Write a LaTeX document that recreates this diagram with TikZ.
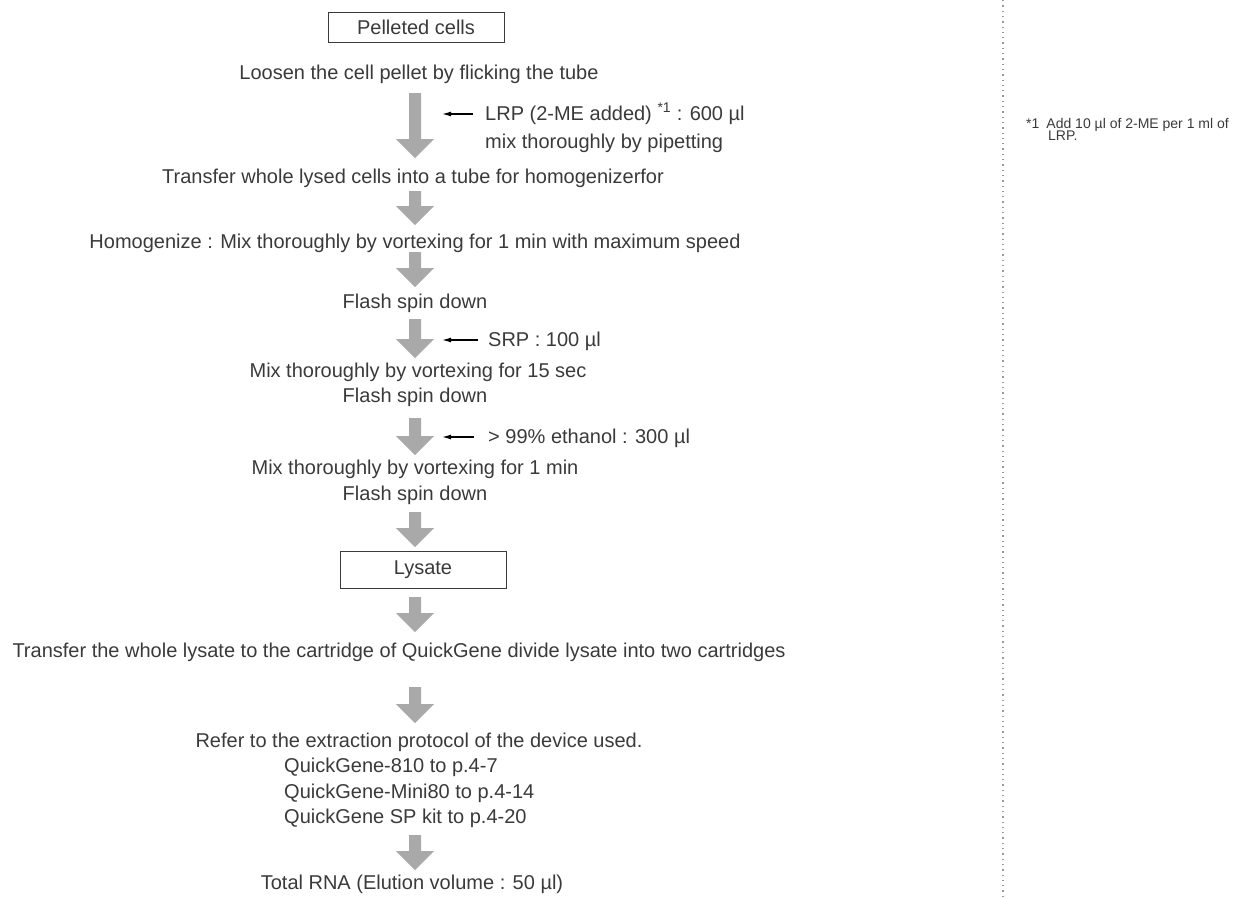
\documentclass[tikz,border=0pt]{standalone}
\usepackage{fontspec}
\setmainfont{Liberation Sans}
\usetikzlibrary{arrows.meta,calc}
\definecolor{txt}{HTML}{3A3A3A}
\definecolor{flow}{HTML}{A9A9A9}
\definecolor{rule}{HTML}{999999}
% grey block arrow: centre x, top y, tip y
\newcommand\flowarrow[3]{%
  \fill[flow] (#1-6,#2) -- (#1+6,#2) -- (#1+6,#3-19) -- (#1+19,#3-19)
    -- (#1,#3) -- (#1-19,#3-19) -- (#1-6,#3-19) -- cycle;}
\begin{document}
\begin{tikzpicture}[x=1pt,y=-1pt,
  lbl/.style={font=\fontsize{20}{23}\selectfont, text=txt, inner sep=0pt, anchor=base},
  lblw/.style={lbl, anchor=base west},
  stepbox/.style={draw=txt, line width=0.8pt, inner sep=0pt,
    font=\fontsize{20}{23}\selectfont, text=txt},
  addarrow/.style={-{Latex[length=9pt,width=5pt]}, line width=1.2pt, draw=black},
  note/.style={font=\fontsize{14}{15}\selectfont, text=txt, inner sep=0pt, anchor=base west}]
\useasboundingbox (0,0) rectangle (1244,898);

% boxes
\node[stepbox, minimum width=176, minimum height=30] (pellet) at (416,27) {Pelleted cells};
\node[stepbox, minimum width=166, minimum height=37] (lysate) at (423,570) {Lysate};

% step texts
\node[lbl] (loosen) at (419,79) {Loosen the cell pellet by flicking the tube};
\node[lblw] (lrp) at (485,120) {LRP (2-ME added) \textsuperscript{*1} : 600 µl};
\node[lblw] (pipet) at (485,148) {mix thoroughly by pipetting};
\node[lbl] (transfer1) at (413,183) {Transfer whole lysed cells into a tube for homogenizerfor};
\node[lbl] (homog) at (415,248) {Homogenize : Mix thoroughly by vortexing for 1 min with maximum speed};
\node[lbl] (spin1) at (415,308) {Flash spin down};
\node[lblw] (srp) at (488,346) {SRP : 100 µl};
\node[lbl] (mix15) at (418,377) {Mix thoroughly by vortexing for 15 sec};
\node[lbl] (spin2) at (415,402) {Flash spin down};
\node[lblw] (etoh) at (488,443) {> 99\% ethanol : 300 µl};
\node[lbl] (mix1) at (415,474) {Mix thoroughly by vortexing for 1 min};
\node[lbl] (spin3) at (415,500) {Flash spin down};
\node[lbl] (transfer2) at (399,657) {Transfer the whole lysate to the cartridge of QuickGene divide lysate into two cartridges};
\node[lbl] (refer) at (419,747) {Refer to the extraction protocol of the device used.};
\node[lblw] (qg810) at (284,772) {QuickGene-810 to p.4-7};
\node[lblw] (qgmini) at (284,798) {QuickGene-Mini80 to p.4-14};
\node[lblw] (qgsp) at (284,823) {QuickGene SP kit to p.4-20};
\node[lbl] (total) at (412,889) {Total RNA (Elution volume : 50 µl)};

% flow arrows
\flowarrow{415}{93}{158}
\flowarrow{415}{191}{225}
\flowarrow{415}{252}{287}
\flowarrow{415}{319}{358}
\flowarrow{415}{418}{455}
\flowarrow{415}{512}{547}
\flowarrow{415}{597}{632}
\flowarrow{415}{687}{723}
\flowarrow{415}{835}{870}

% reagent additions
\coordinate (lrpend) at (442,114);
\coordinate (srpend) at (442,340);
\coordinate (etohend) at (442,437);
\draw[addarrow] ($(lrp.west |- lrpend)+(-12,0)$) -- (lrpend);
\draw[addarrow] ($(srp.west |- srpend)+(-10,0)$) -- (srpend);
\draw[addarrow] ($(etoh.west |- etohend)+(-14,0)$) -- (etohend);

% side column rule and footnote
\coordinate (ruletop) at (1003,0);
\coordinate (rulebot) at (1003,898);
\draw[rule, line width=1.3pt, dash pattern=on 1.3pt off 4pt] (ruletop) -- (rulebot);
\node[note] (fn1) at (1026,128) {*1\hspace{7pt}Add 10 µl of 2-ME per 1 ml of};
\node[note] (fn2) at (1048,140) {LRP.};
\end{tikzpicture}
\end{document}
